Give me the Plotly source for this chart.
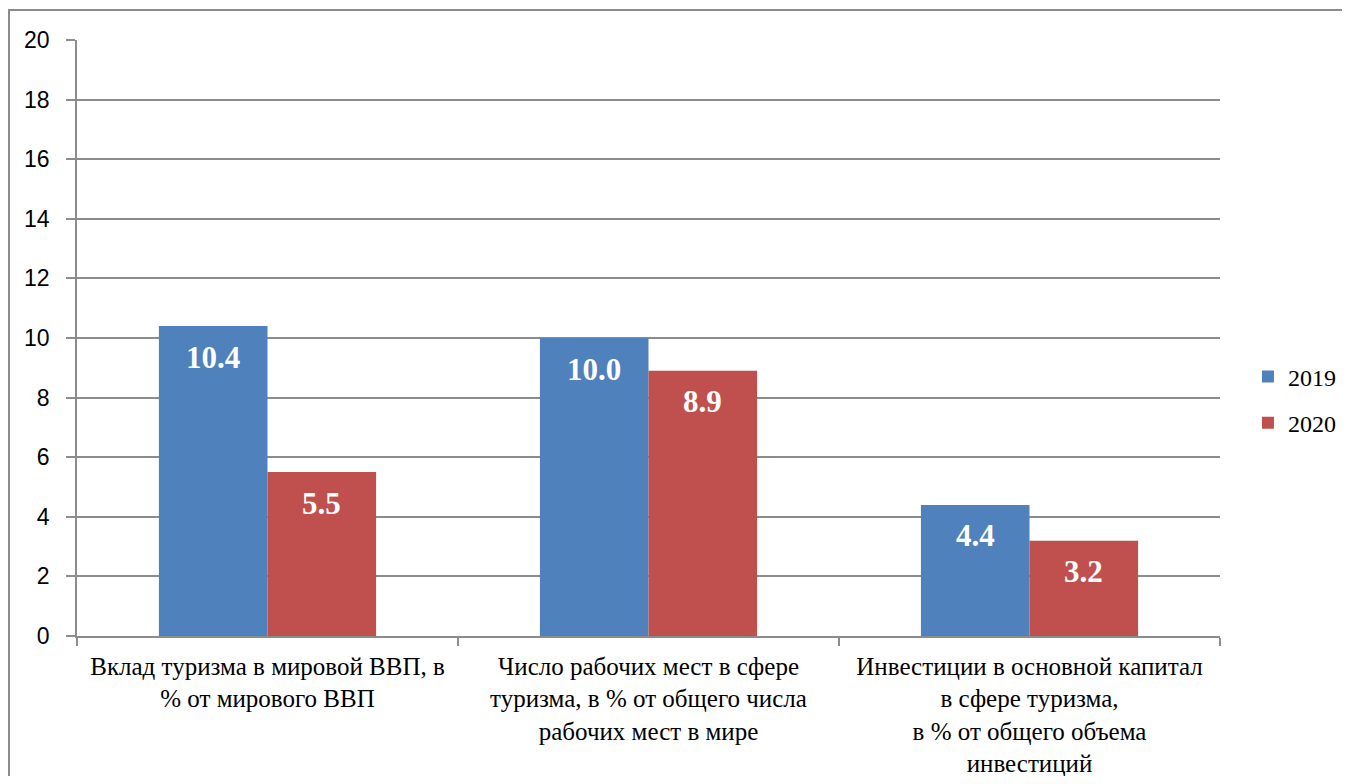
import plotly.graph_objects as go

categories = [
    "Вклад туризма в мировой ВВП, в<br>% от мирового ВВП",
    "Число рабочих мест в сфере<br>туризма, в % от общего числа<br>рабочих мест в мире",
    "Инвестиции в основной капитал<br>в сфере туризма,<br>в % от общего объема<br>инвестиций",
]
series_names = ["2019", "2020"]
values_2019 = [10.4, 10.0, 4.4]
values_2020 = [5.5, 8.9, 3.2]
colors = ["#4F81BD", "#C0504D"]

BARGAP = 0.43
fig = go.Figure()
for name, vals, col in zip(series_names, [values_2019, values_2020], colors):
    fig.add_trace(go.Bar(
        x=categories, y=vals, name=name, legendgroup=name,
        marker=dict(color=col, line=dict(width=0)),
    ))

# data labels placed below the top of each bar
w = (1 - BARGAP) / 2
for i, vals in enumerate([values_2019, values_2020]):
    for j, v in enumerate(vals):
        fig.add_annotation(x=j + (i - 0.5) * w, y=v, xref="x", yref="y",
                           text=f"<b>{v:.1f}</b>", showarrow=False, yshift=-31,
                           yanchor="middle",
                           font=dict(family="Liberation Serif", size=31, color="white"))

fig.update_layout(
    width=1334, height=768,
    margin=dict(l=69, r=122, t=32, b=140),
    paper_bgcolor="white", plot_bgcolor="white",
    barmode="group", bargap=BARGAP, bargroupgap=0,
    showlegend=True,
    legend=dict(xref="container", yref="container", x=0.9295, y=0.4896,
                yanchor="middle", xanchor="left",
                font=dict(family="Liberation Serif", size=24, color="black"),
                tracegroupgap=12, itemwidth=30),
    font=dict(family="Liberation Sans", color="black"),
)
fig.update_yaxes(range=[0, 20], dtick=2, showgrid=True, gridcolor="#8C8C8C", gridwidth=1.5,
                 showline=True, linecolor="#8C8C8C", linewidth=1.5,
                 ticks="outside", ticklen=9, tickcolor="#8C8C8C", tickwidth=1.5,
                 ticklabelstandoff=12,
                 tickfont=dict(family="Liberation Sans", size=23, color="black"),
                 zeroline=False, fixedrange=True, automargin=False)
fig.update_xaxes(showline=True, linecolor="#8C8C8C", linewidth=1.5,
                 ticks="outside", ticklen=8, tickcolor="#8C8C8C", tickwidth=1.5,
                 tickson="boundaries", tickangle=0, automargin=False,
                 ticklabelstandoff=7,
                 tickfont=dict(family="Liberation Serif", size=25, color="black"))

fig.add_shape(type="rect", xref="paper", yref="paper",
              x0=-0.0595, x1=1.6, y0=-1.0, y1=1.0503,
              line=dict(color="#8C8C8C", width=2), fillcolor="rgba(0,0,0,0)", layer="below")

fig.write_html("out.html")
